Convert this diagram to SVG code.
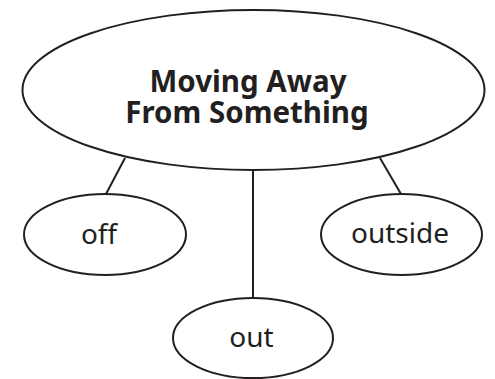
<svg xmlns="http://www.w3.org/2000/svg" width="495" height="379" viewBox="0 0 495 379">
<style>
.node ellipse{fill:#fff;stroke:#231f20;stroke-width:2}
.edges line{stroke:#231f20;stroke-width:2}
text{font-family:"Noto Sans","Liberation Sans",sans-serif;fill:#231f20;text-anchor:middle}
.t{font-size:28px}
.h{font-size:29.5px;font-weight:bold}
</style>
<rect width="495" height="379" fill="#fff"/>
<g id="edges" class="edges">
<line x1="125" y1="158" x2="106" y2="194"/>
<line x1="380" y1="158" x2="401" y2="194"/>
<line x1="253" y1="170" x2="253" y2="298"/>
</g>
<g id="main" class="node">
<ellipse cx="253.5" cy="90" rx="231" ry="80"/>
<text class="h" x="248" y="92">Moving Away</text>
<text class="h" x="247" y="123">From Something</text>
</g>
<g id="off" class="node">
<ellipse cx="105" cy="234.5" rx="81" ry="40.5"/>
<text class="t" x="99" y="244">off</text>
</g>
<g id="outside" class="node">
<ellipse cx="401.5" cy="234.5" rx="80.5" ry="40.5"/>
<text class="t" x="400" y="243">outside</text>
</g>
<g id="out" class="node">
<ellipse cx="253" cy="338" rx="80" ry="40"/>
<text class="t" x="251.5" y="347">out</text>
</g>
</svg>
